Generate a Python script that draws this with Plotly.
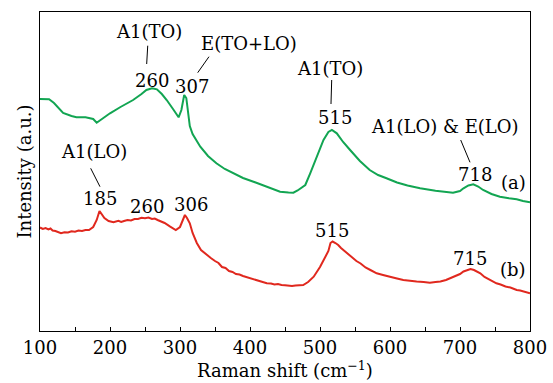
import plotly.graph_objects as go

# Spectrum (a) - green
wn_a = [100, 113, 120, 133, 145, 152, 165, 172, 176, 181, 186, 193, 200, 215, 233, 245, 252, 260, 267, 274,
        281, 290, 298, 302, 306, 309, 311, 314, 318, 322, 329, 340, 352, 364, 376, 390, 405, 425, 443, 455, 462,
        468, 473, 479, 486, 495, 505, 512, 517, 524, 533, 543, 557, 571, 583, 595, 610, 625, 643, 665, 690,
        700, 705, 712, 719, 726, 733, 745, 757, 770, 781, 790, 800]
int_a = [232, 231.7, 228, 218, 215, 213.7, 213.7, 213, 212, 208.3, 211, 214.5, 217.7, 224, 231, 237, 241, 242.7, 241.7, 237,
         231, 222, 213.7, 221, 236, 233, 222, 205, 197, 192, 184.3, 175, 167.7, 162, 157.7, 153, 149.3, 144, 139.3, 138.5, 138.3,
         140.5, 143, 146, 157.7, 174, 191, 199, 201, 197.7, 189, 181, 170, 161, 156, 152.7, 148.5, 145.5, 142.7, 140.3, 138.3,
         140, 142.7, 145.5, 146.7, 144.5, 141, 137, 134.3, 132.7, 131.7, 130, 128.7]

# Spectrum (b) - red
wn_b = [100, 104, 108, 112, 115, 118, 122, 126, 130, 135, 140, 145, 150, 155, 160, 165, 170, 176, 181, 185,
        188, 192, 198, 205, 212, 216, 220, 225, 230, 235, 240, 245, 250, 255, 260, 264, 268, 273, 278, 286,
        294, 300, 304, 307, 310, 314, 318, 324, 330, 338, 344, 350, 355, 360, 365, 370, 375, 380, 385, 390,
        395, 400, 406, 412, 418, 424, 430, 435, 440, 445, 450, 455, 460, 465, 470, 476, 483, 491, 500, 508,
        512, 515, 518, 522, 526, 530, 535, 540, 546, 552, 558, 565, 572, 581, 590, 600, 610, 619, 628, 638, 648,
        657, 665, 672, 680, 686, 693, 700, 705, 710, 715, 720, 725, 729, 735, 740, 746, 752, 758, 765, 772,
        781, 786, 790, 795, 800]
int_b = [103.5, 102, 103, 101.5, 102.5, 100.5, 100, 99, 97.7, 98.8, 98.5, 99.8, 99.3, 100.4, 100, 101, 101, 104, 111, 120,
         117, 113, 110, 108.7, 110.2, 109, 110, 111, 110.5, 112, 112, 113.2, 112.7, 113.5, 112, 112.4, 111, 109.5, 108, 104.3,
         101, 104, 112, 116, 113, 107.7, 98, 88, 81, 76, 73, 70, 68, 64, 63, 60, 59, 57, 56.5, 55,
         54, 52.7, 51.5, 50, 49, 47.7, 47.5, 46.5, 47, 46, 45.8, 45.5, 45, 45.5, 46, 46, 49, 54.3, 64, 74,
         80, 88, 89.5, 88, 86, 83, 80, 77, 74, 70, 67.5, 63.5, 61, 57.7, 56, 54, 52.5, 51, 50, 49.5, 49,
         48.3, 49, 49.5, 51, 52.7, 55, 57, 59.5, 61, 62, 61, 59, 57.7, 54, 52, 50, 47.7, 46.5, 44.5, 43.5,
         41, 40.5, 39.5, 38.5, 37.7]

x_ticks = [100, 200, 300, 400, 500, 600, 700, 800]

# Annotation labels: (text, x, y)
labels = [
    ("A1(TO)", 255.7, 300), ("260", 259.6, 251),
    ("E(TO+LO)", 398.6, 288), ("307", 316.7, 245),
    ("A1(TO)", 514.3, 263), ("515", 521.4, 213.7),
    ("A1(LO) &amp; E(LO)", 677.9, 204.3), ("718", 721.4, 157), ("(a)", 776.1, 148.3),
    ("A1(LO)", 177.1, 179.3), ("185", 185.7, 132.7),
    ("260", 252.4, 124.3), ("306", 315.3, 127),
    ("515", 516.7, 101), ("715", 714.3, 72.7), ("(b)", 775.3, 61.7),
]
leaders = [
    (253.9, 285.3, 252.4, 267),
    (341.4, 274.3, 325.3, 258.3),
    (516.7, 251, 515.7, 227),
    (701, 191, 714.3, 168.7),
    (172.4, 162.7, 185.7, 144.3),
]

FONT = "DejaVu Serif"
FS = 18

fig = go.Figure()
fig.add_trace(go.Scatter(x=wn_a, y=int_a, mode="lines", line=dict(color="#12a552", width=2), showlegend=False))
fig.add_trace(go.Scatter(x=wn_b, y=int_b, mode="lines", line=dict(color="#e0281e", width=2), showlegend=False))

for t, x, y in labels:
    fig.add_annotation(x=x, y=y, xref="x", yref="y", text=t, showarrow=False,
                       font=dict(family=FONT, size=FS, color="black"), xanchor="center", yanchor="middle")
for x0, y0, x1, y1 in leaders:
    fig.add_shape(type="line", x0=x0, y0=y0, x1=x1, y1=y1, xref="x", yref="y",
                  line=dict(color="black", width=1))

fig.update_layout(
    width=553, height=383,
    margin=dict(l=40, r=23, t=12, b=52, autoexpand=False),
    paper_bgcolor="white", plot_bgcolor="white",
    font=dict(family=FONT, size=FS, color="black"),
    xaxis=dict(range=[100, 800], tickvals=x_ticks, ticks="inside", ticklen=4, tickwidth=1,
               tickcolor="black", showline=True, linecolor="black", linewidth=1, mirror=True,
               showgrid=False, zeroline=False, tickfont=dict(family=FONT, size=FS), automargin=False,
               minor=dict(dtick=50, tick0=100, ticks="inside", ticklen=4, tickcolor="black", showgrid=False),
               title=dict(text="Raman shift (cm<sup>−1</sup>)", font=dict(family=FONT, size=FS), standoff=6)),
    yaxis=dict(range=[0, 319], showticklabels=False, ticks="", showline=True, linecolor="black",
               linewidth=1, mirror=True, showgrid=False, zeroline=False, automargin=False,
               title=dict(text="Intensity (a.u.)", font=dict(family=FONT, size=FS), standoff=2)),
)

fig.write_html("out.html")
